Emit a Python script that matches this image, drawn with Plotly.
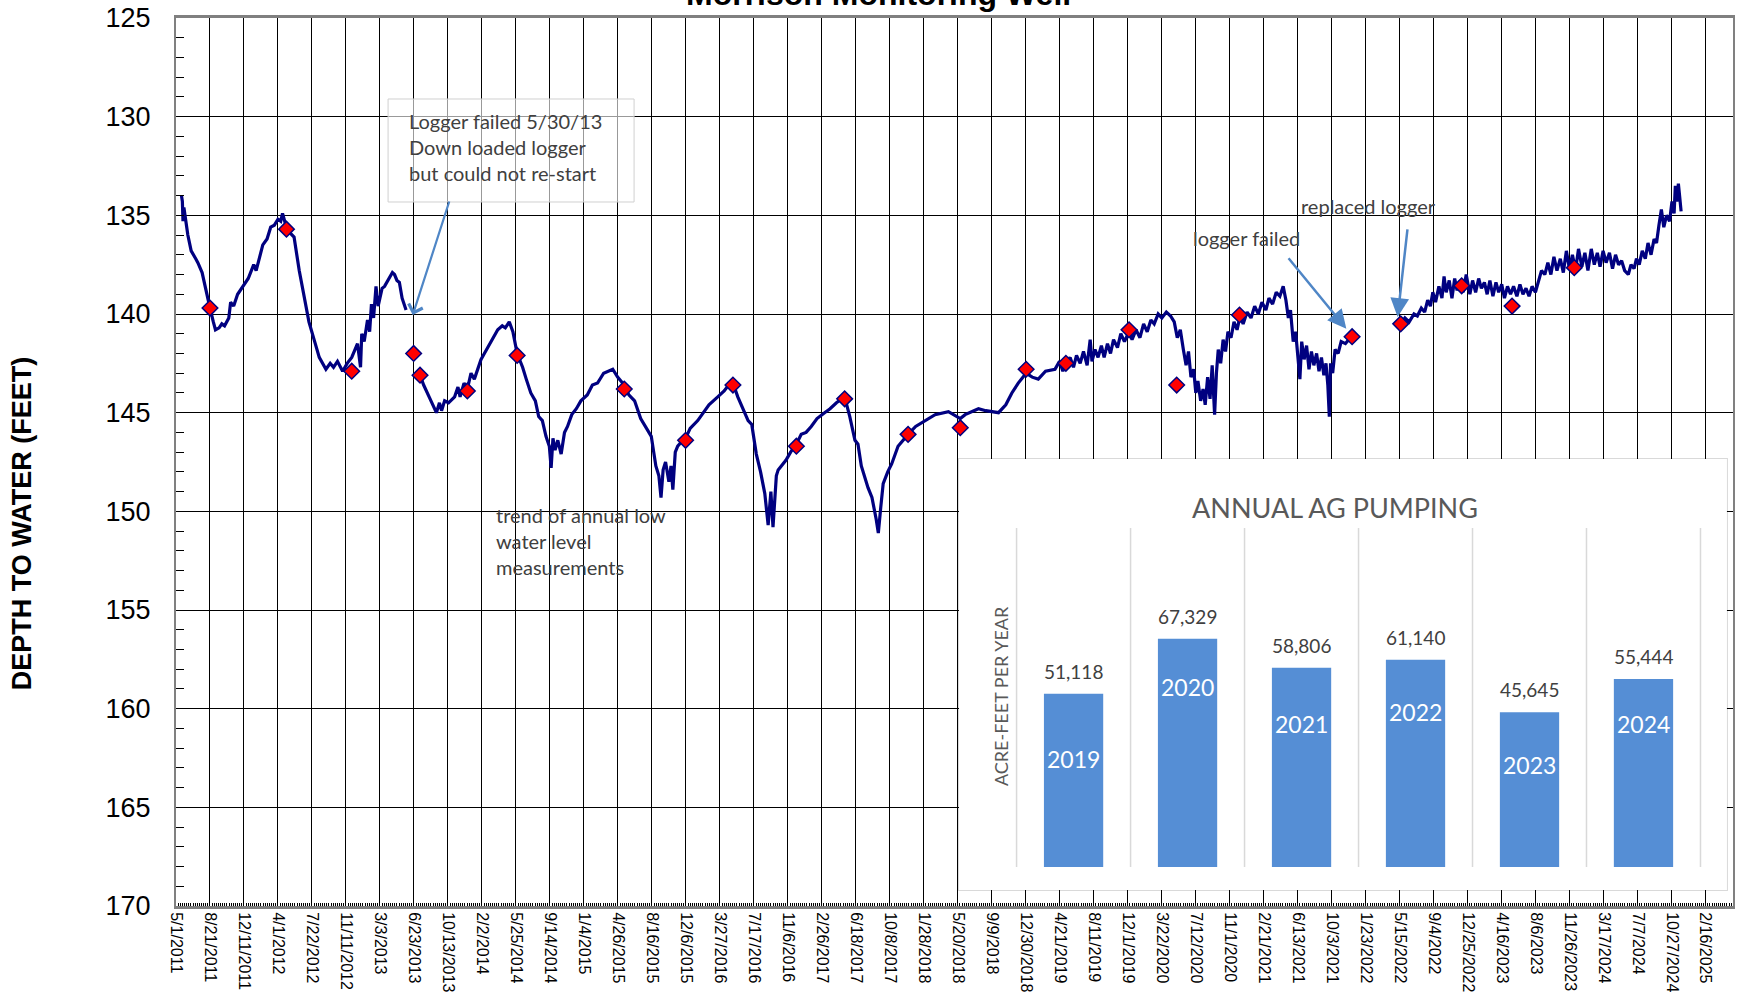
from plotly import graph_objects as go

# logger readings (depth to water, feet)
logger1_dates = ['2011-05-19', '2011-05-22', '2011-05-24', '2011-05-27', '2011-06-09', '2011-06-20', '2011-07-05',
                 '2011-07-12', '2011-07-26', '2011-08-10', '2011-08-21', '2011-09-01', '2011-09-08', '2011-09-20',
                 '2011-09-29', '2011-10-08', '2011-10-22', '2011-10-28', '2011-11-07', '2011-11-20', '2011-12-11',
                 '2011-12-25', '2012-01-12', '2012-01-20', '2012-02-11', '2012-02-25', '2012-03-08', '2012-03-20',
                 '2012-04-01', '2012-04-10', '2012-04-16', '2012-04-25', '2012-05-05', '2012-05-24', '2012-06-10',
                 '2012-06-25', '2012-07-12', '2012-07-29', '2012-08-15', '2012-09-06', '2012-09-20', '2012-10-01',
                 '2012-10-14', '2012-10-31', '2012-11-15', '2012-11-30', '2012-12-10', '2012-12-19', '2012-12-29',
                 '2013-01-02', '2013-01-10', '2013-01-21', '2013-01-28', '2013-02-03', '2013-02-10', '2013-02-18',
                 '2013-02-25', '2013-03-03', '2013-03-10', '2013-03-18', '2013-04-01', '2013-04-13', '2013-04-20',
                 '2013-04-28', '2013-05-06', '2013-05-15', '2013-05-28']
logger1_depth = [134.0, 134.3, 135.3, 134.6, 136.0, 136.8, 137.2,
                 137.4, 137.9, 139.0, 139.7, 140.4, 140.8, 140.7,
                 140.5, 140.6, 140.2, 139.4, 139.6, 139.0, 138.5,
                 138.2, 137.5, 137.8, 136.5, 136.2, 135.6, 135.5,
                 135.2, 135.3, 134.9, 135.4, 135.8, 136.1, 137.8,
                 139.1, 140.4, 141.3, 142.2, 142.8, 142.5, 142.7,
                 142.4, 142.9, 142.5, 142.2, 141.8, 141.5, 142.7,
                 141.0, 141.4, 140.3, 140.9, 139.5, 140.2, 138.6,
                 139.6, 139.2, 138.7, 138.6, 138.2, 137.9, 138.0,
                 138.3, 138.4, 139.2, 139.8]

logger2_dates = ['2013-07-13', '2013-07-25', '2013-08-12', '2013-08-25', '2013-09-05', '2013-09-15', '2013-09-22',
                 '2013-10-02', '2013-10-15', '2013-11-04', '2013-11-15', '2013-11-22', '2013-12-05', '2013-12-16',
                 '2013-12-28', '2014-01-08', '2014-01-20', '2014-01-30', '2014-02-10', '2014-02-24', '2014-03-10',
                 '2014-03-26', '2014-04-10', '2014-04-20', '2014-05-03', '2014-05-15', '2014-05-29', '2014-06-16',
                 '2014-06-28', '2014-07-13', '2014-07-28', '2014-08-08', '2014-08-20', '2014-09-01', '2014-09-12',
                 '2014-09-18', '2014-09-24', '2014-10-01', '2014-10-10', '2014-10-21', '2014-11-01', '2014-11-11',
                 '2014-11-25', '2014-12-10', '2014-12-25', '2015-01-15', '2015-02-01', '2015-02-18', '2015-03-10',
                 '2015-03-25', '2015-04-09', '2015-04-25', '2015-05-17', '2015-06-01', '2015-06-20', '2015-07-10',
                 '2015-07-28', '2015-08-14', '2015-08-22', '2015-08-29', '2015-09-08', '2015-09-15', '2015-09-22',
                 '2015-09-30', '2015-10-11', '2015-10-18', '2015-10-24', '2015-11-01', '2015-11-09', '2015-11-20',
                 '2015-12-05', '2015-12-20', '2016-01-14', '2016-02-01', '2016-02-20', '2016-03-20', '2016-04-10',
                 '2016-04-25', '2016-05-09', '2016-05-25', '2016-06-10', '2016-06-28', '2016-07-10', '2016-07-25',
                 '2016-08-08', '2016-08-22', '2016-09-02', '2016-09-11', '2016-09-18', '2016-09-29', '2016-10-05',
                 '2016-10-20', '2016-10-31', '2016-11-15', '2016-12-04', '2016-12-20', '2017-01-05', '2017-01-22',
                 '2017-02-10', '2017-03-07', '2017-03-25', '2017-04-15', '2017-05-01', '2017-05-12', '2017-05-29',
                 '2017-06-15', '2017-06-25', '2017-07-06', '2017-07-28', '2017-08-10', '2017-08-24', '2017-08-31',
                 '2017-09-08', '2017-09-16', '2017-10-01', '2017-10-14', '2017-11-04', '2017-11-20', '2017-12-07',
                 '2018-01-01', '2018-01-31', '2018-03-06', '2018-04-19', '2018-05-28', '2018-06-13', '2018-07-27',
                 '2018-08-20', '2018-10-01', '2018-10-25', '2018-11-14', '2018-12-05', '2018-12-31', '2019-01-20',
                 '2019-02-09', '2019-03-05', '2019-04-05', '2019-04-20', '2019-05-01', '2019-05-11', '2019-05-25',
                 '2019-06-05', '2019-06-15', '2019-06-27', '2019-07-08', '2019-07-20', '2019-07-30', '2019-08-05',
                 '2019-08-15', '2019-08-25', '2019-09-05', '2019-09-14', '2019-09-25', '2019-10-05', '2019-10-15',
                 '2019-10-28', '2019-11-08', '2019-11-20', '2019-12-05', '2019-12-15', '2019-12-28', '2020-01-10',
                 '2020-01-22', '2020-02-03', '2020-02-15', '2020-02-26', '2020-03-10', '2020-03-22', '2020-04-06',
                 '2020-04-20', '2020-05-02', '2020-05-12', '2020-05-22', '2020-06-01', '2020-06-10', '2020-06-18',
                 '2020-06-26', '2020-07-05', '2020-07-12', '2020-07-19', '2020-07-28', '2020-08-05', '2020-08-12',
                 '2020-08-20', '2020-08-28', '2020-09-04', '2020-09-12', '2020-09-18', '2020-09-24', '2020-10-02',
                 '2020-10-10', '2020-10-18', '2020-10-26', '2020-11-05', '2020-11-15', '2020-11-25', '2020-12-05',
                 '2020-12-15', '2020-12-28', '2021-01-10', '2021-01-22', '2021-02-03', '2021-02-15', '2021-02-28',
                 '2021-03-10', '2021-03-22', '2021-04-03', '2021-04-15', '2021-04-26', '2021-05-05', '2021-05-13',
                 '2021-05-20', '2021-05-29', '2021-06-06', '2021-06-14', '2021-06-20', '2021-06-26', '2021-07-04',
                 '2021-07-12', '2021-07-20', '2021-07-28', '2021-08-05', '2021-08-14', '2021-08-22', '2021-08-30',
                 '2021-09-07', '2021-09-14', '2021-09-20', '2021-09-25', '2021-09-29', '2021-10-06', '2021-10-14',
                 '2021-10-24', '2021-11-03', '2021-11-17', '2021-12-09']
logger2_depth = [143.1, 143.6, 144.2, 144.6, 145.0, 144.5, 144.9,
                 144.4, 144.5, 144.2, 143.7, 144.2, 143.5, 143.8,
                 143.0, 143.3, 142.7, 142.3, 142.0, 141.6, 141.2,
                 140.8, 140.6, 140.7, 140.4, 140.9, 142.0, 142.7,
                 143.3, 144.0, 144.4, 145.2, 145.4, 146.2, 146.7,
                 147.8, 146.3, 146.9, 146.4, 147.1, 146.0, 145.7,
                 145.1, 144.8, 144.4, 144.1, 143.6, 143.5, 143.0,
                 142.9, 142.8, 143.2, 143.6, 144.1, 144.4, 145.3,
                 145.8, 146.2, 147.0, 147.7, 148.2, 149.3, 147.9,
                 147.5, 148.5, 147.7, 148.9, 147.0, 146.7, 146.5,
                 146.3, 145.8, 145.4, 145.0, 144.6, 144.2, 143.9,
                 143.6, 143.5, 144.2, 144.8, 145.4, 145.6, 147.1,
                 148.0, 149.1, 150.7, 149.0, 150.8, 148.2, 147.9,
                 147.6, 147.4, 147.0, 146.6, 146.1, 146.0, 145.7,
                 145.3, 145.0, 144.8, 144.5, 144.3, 144.2, 145.2,
                 146.4, 146.6, 147.7, 148.8, 149.3, 150.4, 151.1,
                 149.8, 148.6, 148.0, 147.6, 146.7, 146.4, 146.1,
                 145.7, 145.4, 145.1, 144.95, 145.3, 145.1, 144.8,
                 144.9, 145.0, 144.6, 144.0, 143.5, 143.0, 143.2,
                 143.3, 142.9, 142.8, 142.4, 142.9, 142.5, 142.2,
                 142.7, 142.1, 142.5, 141.9, 142.6, 141.3, 142.4,
                 141.8, 142.2, 141.6, 142.2, 141.5, 142.0, 141.3,
                 141.7, 141.0, 141.4, 140.9, 141.3, 140.8, 141.2,
                 140.5, 140.9, 140.3, 140.5, 140.0, 140.2, 139.9,
                 140.1, 140.4, 141.2, 140.8, 141.8, 142.6, 141.9,
                 143.2, 142.8, 144.0, 143.4, 144.4, 143.8, 144.6,
                 143.2, 144.3, 142.6, 145.1, 143.0, 141.8, 142.5,
                 141.3, 141.9, 140.9, 141.2, 140.4, 140.8, 140.1,
                 140.5, 139.9, 140.2, 139.6, 140.0, 139.4, 139.8,
                 139.2, 139.5, 138.9, 139.1, 138.6, 139.3, 140.2,
                 139.8, 141.4, 140.9, 142.2, 143.3, 141.4, 142.3,
                 141.6, 142.8, 141.9, 142.6, 142.0, 142.9, 142.2,
                 143.1, 142.5, 143.6, 145.2, 142.5, 143.0, 141.8,
                 142.0, 141.4, 141.5, 141.1]

logger3_dates = ['2022-05-18', '2022-06-01', '2022-06-15', '2022-07-01', '2022-07-12', '2022-07-25', '2022-08-05',
                 '2022-08-15', '2022-08-24', '2022-09-01', '2022-09-10', '2022-09-21', '2022-10-01', '2022-10-08',
                 '2022-10-15', '2022-10-25', '2022-11-03', '2022-11-12', '2022-11-20', '2022-12-01', '2022-12-10',
                 '2022-12-20', '2023-01-01', '2023-01-10', '2023-01-20', '2023-01-30', '2023-02-08', '2023-02-18',
                 '2023-02-27', '2023-03-08', '2023-03-18', '2023-03-28', '2023-04-06', '2023-04-16', '2023-04-25',
                 '2023-05-05', '2023-05-15', '2023-05-25', '2023-06-05', '2023-06-15', '2023-06-25', '2023-07-05',
                 '2023-07-15', '2023-07-25', '2023-08-05', '2023-08-15', '2023-08-25', '2023-09-05', '2023-09-15',
                 '2023-09-25', '2023-10-05', '2023-10-15', '2023-10-26', '2023-11-05', '2023-11-15', '2023-11-25',
                 '2023-12-05', '2023-12-15', '2023-12-25', '2024-01-05', '2024-01-15', '2024-01-25', '2024-02-05',
                 '2024-02-15', '2024-02-25', '2024-03-05', '2024-03-15', '2024-03-25', '2024-04-05', '2024-04-15',
                 '2024-04-25', '2024-05-05', '2024-05-15', '2024-05-25', '2024-06-06', '2024-06-15', '2024-06-25',
                 '2024-07-03', '2024-07-12', '2024-07-22', '2024-08-01', '2024-08-10', '2024-08-20', '2024-08-30',
                 '2024-09-07', '2024-09-15', '2024-09-23', '2024-10-01', '2024-10-10', '2024-10-20', '2024-10-28',
                 '2024-11-04', '2024-11-08', '2024-11-13', '2024-11-18', '2024-11-22', '2024-11-27']
logger3_depth = [140.5, 140.2, 140.4, 140.0, 140.1, 139.7, 139.9,
                 139.3, 139.6, 138.9, 139.4, 138.6, 139.2, 138.1,
                 138.9, 138.3, 139.2, 138.2, 138.8, 138.3, 138.9,
                 138.0, 139.0, 138.3, 138.9, 138.2, 138.7, 138.4,
                 139.0, 138.3, 139.1, 138.4, 138.9, 138.5, 139.2,
                 138.6, 139.0, 138.6, 139.1, 138.5, 139.0, 138.7,
                 139.1, 138.6, 138.9, 138.3, 137.8, 138.0, 137.4,
                 138.0, 137.1, 137.8, 137.2, 137.9, 136.8, 137.7,
                 137.0, 137.8, 136.7, 137.6, 136.9, 137.8, 136.7,
                 137.5, 136.9, 137.6, 136.8, 137.4, 136.9, 137.7,
                 137.0, 137.5, 137.3, 137.8, 138.0, 137.5, 137.7,
                 137.2, 137.5, 136.8, 137.2, 136.4, 137.0, 136.2,
                 136.4, 135.5, 134.7, 135.6, 135.0, 135.3, 134.3,
                 134.9, 133.5, 134.3, 133.4, 134.0, 134.8]

# manual water level measurements
manual_dates = ['2011-08-21', '2012-04-29', '2012-11-30', '2013-06-22', '2013-07-13', '2013-12-16', '2014-05-29',
                '2015-05-17', '2015-12-05', '2016-05-09', '2016-12-04', '2017-05-12', '2017-12-07', '2018-05-28',
                '2018-12-31', '2019-05-11', '2019-12-05', '2020-05-10', '2020-12-03', '2021-12-09', '2022-05-18',
                '2022-12-05', '2023-05-20', '2023-12-11']
manual_depth = [139.7, 135.7, 142.9, 142.0, 143.1, 143.9, 142.1,
                143.8, 146.4, 143.6, 146.7, 144.3, 146.1, 145.76,
                142.8, 142.5, 140.8, 143.6, 140.05, 141.15, 140.5,
                138.57, 139.6, 137.65]

# inset: annual ag pumping
pump_years = ['2019', '2020', '2021', '2022', '2023', '2024']
pump_acre_feet = [51118, 67329, 58806, 61140, 45645, 55444]

line_dates = logger1_dates + [None] + logger2_dates + [None] + logger3_dates
line_depth = logger1_depth + [None] + logger2_depth + [None] + logger3_depth

fig = go.Figure()
fig.add_scatter(x=line_dates, y=line_depth, mode='lines', connectgaps=False,
                line={'color': '#000080', 'width': 3.2}, showlegend=False)
fig.add_scatter(x=manual_dates, y=manual_depth, mode='markers', showlegend=False,
                marker={'symbol': 'diamond', 'size': 12, 'color': '#ff0000',
                        'line': {'color': '#000080', 'width': 1.5}})

bar_pos = list(range(len(pump_years)))
fig.add_bar(x=bar_pos, y=pump_acre_feet, xaxis='x2', yaxis='y2', width=0.52,
            marker={'color': '#558ed5', 'line': {'width': 0}}, showlegend=False)

day_ms = 86400000
fig.update_layout({
    'width': 1744,
    'height': 998,
    'paper_bgcolor': 'white',
    'plot_bgcolor': 'white',
    'margin': {'l': 176, 'r': 11, 't': 18, 'b': 92},
    'font': {'family': 'Liberation Sans, Arial', 'color': 'black'},
    'xaxis': {'type': 'date', 'range': ['2011-05-01', '2025-05-17'], 'automargin': False,
              'tick0': '2011-05-01', 'dtick': 112 * day_ms, 'tickformat': '%-m/%-d/%Y',
              'tickangle': 90, 'tickfont': {'size': 16, 'family': 'Liberation Sans Narrow, Liberation Sans'},
              'showgrid': True, 'gridcolor': '#000000', 'gridwidth': 1,
              'ticks': 'inside', 'ticklen': 5, 'tickcolor': '#000000',
              'minor': {'dtick': 7 * day_ms, 'ticks': 'inside', 'ticklen': 3, 'tickcolor': '#000000',
                        'showgrid': False},
              'showline': True, 'linecolor': '#808080', 'linewidth': 3, 'mirror': True,
              'zeroline': False, 'layer': 'above traces'},
    'yaxis': {'range': [170, 125], 'dtick': 5, 'tick0': 125, 'automargin': False,
              'tickfont': {'size': 27, 'family': 'Liberation Sans Narrow, Liberation Sans'},
              'showgrid': True, 'gridcolor': '#000000', 'gridwidth': 1,
              'ticks': 'inside', 'ticklen': 8, 'tickcolor': '#000000', 'ticklabelstandoff': 18,
              'minor': {'dtick': 1, 'ticks': 'inside', 'ticklen': 8, 'tickcolor': '#000000',
                        'showgrid': False},
              'showline': True, 'linecolor': '#808080', 'linewidth': 2, 'mirror': True,
              'zeroline': False},
    'xaxis2': {'domain': [0.5029, 0.9961], 'anchor': 'y2', 'range': [-1.005, 5.732],
               'visible': False},
    'yaxis2': {'domain': [0.018, 0.5034], 'anchor': 'x2', 'range': [-6785, 120354],
               'visible': False},
})

# inset box and its category separators
shapes = [dict(type='rect', xref='x2 domain', yref='y2 domain', x0=0, x1=1, y0=0, y1=1,
               fillcolor='white', line={'color': '#d9d9d9', 'width': 2}, layer='below')]
for i in range(len(pump_years) + 1):
    shapes.append(dict(type='line', xref='x2', yref='y2', x0=i - 0.5, x1=i - 0.5, y0=0, y1=100000,
                       line={'color': '#d9d9d9', 'width': 1.5}, layer='below'))
# logger note box
shapes.append(dict(type='rect', xref='paper', yref='paper', x0=0.1362, x1=0.2942, y0=0.7928, y1=0.9088,
                   fillcolor='rgba(255,255,255,0.6)', line={'color': '#d0d0d0', 'width': 1}, layer='above'))
fig.update_layout(shapes=shapes)

lato = 'Lato, Carlito, Liberation Sans'
text_font = {'family': lato, 'size': 20, 'color': '#404040'}
arrow_color = '#4f86c6'
annotations = [
    dict(text='<b>Morrison Monitoring Well</b>', xref='paper', yref='paper', x=0.4515, y=1.027,
         xanchor='center', yanchor='middle', showarrow=False,
         font={'family': 'Liberation Sans, Arial', 'size': 32, 'color': 'black'}),
    dict(text='<b>DEPTH TO WATER (FEET)</b>', xref='paper', yref='paper', x=-0.0989, y=0.431,
         xanchor='center', yanchor='middle', textangle=-90, showarrow=False,
         font={'family': 'Liberation Sans, Arial', 'size': 27, 'color': 'black'}),
    dict(text='Logger failed 5/30/13<br>Down loaded logger<br>but could not re-start',
         xref='paper', yref='paper', x=0.1484, y=0.8995, xanchor='left', yanchor='top', align='left',
         showarrow=False, font=text_font),
    dict(text='', xref='x', yref='y', x='2013-06-19', y=140.05, ax=37, ay=-115,
         showarrow=True, arrowhead=4, arrowsize=1.3, arrowwidth=2.2, arrowcolor=arrow_color),
    dict(text='trend of annual low<br>water level<br>measurements', xref='paper', yref='paper',
         x=0.2043, y=0.4565, xanchor='left', yanchor='top', align='left', showarrow=False, font=text_font),
    dict(text='logger failed', xref='paper', yref='paper', x=0.6873, y=0.7523, xanchor='center',
         yanchor='middle', showarrow=False, font=text_font),
    dict(text='', xref='x', yref='y', x='2021-11-20', y=140.75, ax=-59, ay=-72,
         showarrow=True, arrowhead=2, arrowsize=1.5, arrowwidth=2.5, arrowcolor=arrow_color),
    dict(text='replaced logger', xref='paper', yref='paper', x=0.7656, y=0.7883, xanchor='center',
         yanchor='middle', showarrow=False, font=text_font),
    dict(text='', xref='x', yref='y', x='2022-05-08', y=140.15, ax=10, ay=-89,
         showarrow=True, arrowhead=2, arrowsize=1.5, arrowwidth=2.5, arrowcolor=arrow_color),
    dict(text='ANNUAL AG PUMPING', xref='paper', yref='paper', x=0.7444, y=0.4493, xanchor='center',
         yanchor='middle', showarrow=False, font={'family': lato, 'size': 27, 'color': '#595959'}),
    dict(text='ACRE-FEET PER YEAR', xref='paper', yref='paper', x=0.5299, y=0.2365, xanchor='center',
         yanchor='middle', textangle=-90, showarrow=False, font={'family': lato, 'size': 18, 'color': '#595959'}),
]

# value labels above bars and year labels inside
year_label_y = [31870, 53220, 42050, 45660, 30220, 42050]
for i, yr in enumerate(pump_years):
    annotations.append(dict(text='{:,}'.format(pump_acre_feet[i]), xref='x2', yref='y2', x=bar_pos[i],
                            y=pump_acre_feet[i], xanchor='center', yanchor='bottom', yshift=9,
                            showarrow=False, font={'family': lato, 'size': 19, 'color': '#404040'}))
    annotations.append(dict(text=yr, xref='x2', yref='y2', x=bar_pos[i], y=year_label_y[i],
                            xanchor='center', yanchor='middle', showarrow=False,
                            font={'family': lato, 'size': 23, 'color': 'white'}))
fig.update_layout(annotations=annotations)

# page has a default 8px body margin; drop it so the figure sits at the window corner
fig.write_html('out.html', config={'displayModeBar': False},
               post_script="document.body.style.margin = '0';")
